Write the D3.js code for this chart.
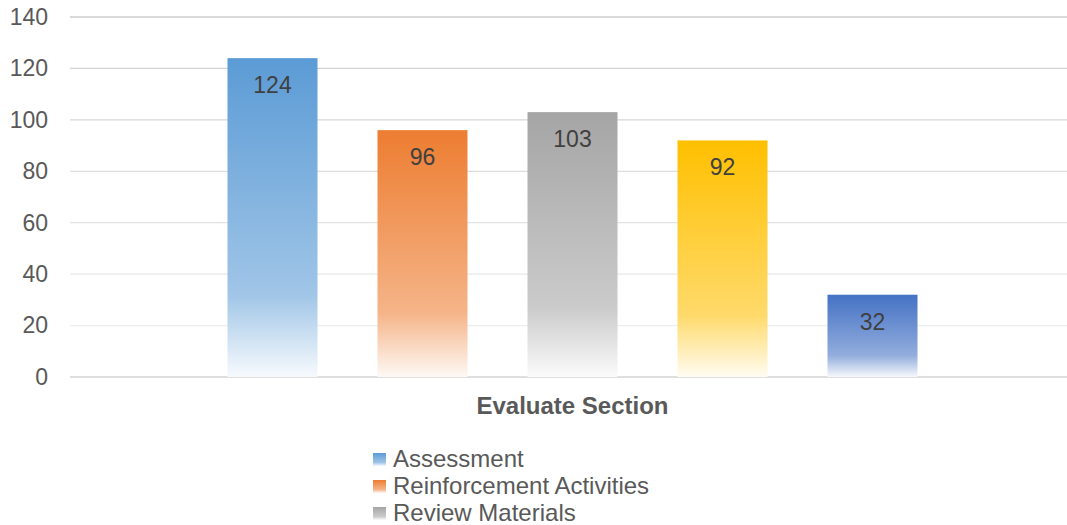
<!DOCTYPE html>
<html>
<head>
<meta charset="utf-8">
<script src="https://cdn.jsdelivr.net/npm/d3@7"></script>
<style>
  html, body { margin: 0; padding: 0; background: #fff; overflow: hidden; }
  svg { display: block; font-family: "Liberation Sans", Arial, sans-serif; }
</style>
</head>
<body>
<svg id="chart" width="1067" height="525"></svg>
<script>
// Evaluate section counts per resource type
const categories = ["Evaluate Section"];
const seriesNames = ["Assessment", "Reinforcement Activities", "Review Materials", "Extension Activities", "Additional Resources"];
const seriesValues = [124, 96, 103, 92, 32];
const seriesColors = ["#5B9BD5", "#ED7D31", "#A5A5A5", "#FFC000", "#4472C4"];
const yTicks = [0, 20, 40, 60, 80, 100, 120, 140];

const W = 1067, H = 525;
const margin = { left: 70, right: -8, top: 17, bottom: 148 };
const svg = d3.select("#chart");

const y = d3.scaleLinear().domain([0, 140]).range([H - margin.bottom, margin.top]);
const x0 = d3.scaleBand().domain(categories)
  .range([margin.left, W - margin.right]).paddingInner(0).paddingOuter(0.17);
const x1 = d3.scaleBand().domain(seriesNames)
  .range([0, x0.bandwidth()]).paddingInner(0.4).paddingOuter(0.2);

// gradient fills: full colour at top, paler lower down, almost white at the base
const defs = svg.append("defs");
seriesColors.forEach((c, i) => {
  const g = defs.append("linearGradient").attr("id", "grad" + i)
    .attr("x1", 0).attr("y1", 0).attr("x2", 0).attr("y2", 1);
  g.append("stop").attr("offset", "0%").attr("stop-color", c);
  g.append("stop").attr("offset", "74%").attr("stop-color", d3.interpolateRgb(c, "#fff")(0.42));
  g.append("stop").attr("offset", "100%").attr("stop-color", d3.interpolateRgb(c, "#fff")(0.95));
});

// gridlines, fading from top to bottom
const gridColor = d3.scaleLinear().domain([140, 20]).range(["#cccccc", "#eeeeee"]);
svg.append("g").selectAll("line").data(yTicks).join("line")
  .attr("x1", margin.left).attr("x2", W)
  .attr("y1", d => y(d)).attr("y2", d => y(d))
  .attr("stroke", d => d === 0 ? "#d4d4d4" : gridColor(d))
  .attr("stroke-width", d => d === 0 ? 1.5 : 1.3);

// y axis labels
const yAxis = d3.axisLeft(y).tickValues(yTicks).tickSize(0).tickPadding(22);
const yg = svg.append("g").attr("transform", `translate(${margin.left},0)`).call(yAxis);
yg.select(".domain").remove();
yg.selectAll("text").attr("font-size", 23).attr("fill", "#595959")
  .attr("font-family", "Liberation Sans, Arial, sans-serif");

// bars
const group = svg.append("g").attr("transform", `translate(${x0(categories[0])},0)`);
group.selectAll("rect").data(seriesNames).join("rect")
  .attr("x", d => x1(d))
  .attr("y", (d, i) => y(seriesValues[i]))
  .attr("width", x1.bandwidth())
  .attr("height", (d, i) => y(0) - y(seriesValues[i]))
  .attr("fill", (d, i) => `url(#grad${i})`);

// value labels inside the top of each bar
group.selectAll("text.val").data(seriesNames).join("text")
  .attr("class", "val")
  .attr("x", d => x1(d) + x1.bandwidth() / 2)
  .attr("y", (d, i) => y(seriesValues[i]) + 35)
  .attr("text-anchor", "middle")
  .attr("font-size", 23).attr("fill", "#404040")
  .text((d, i) => seriesValues[i]);

// category label
svg.append("text")
  .attr("x", x0(categories[0]) + x0.bandwidth() / 2)
  .attr("y", 414)
  .attr("text-anchor", "middle")
  .attr("font-size", 24).attr("font-weight", "bold").attr("fill", "#595959")
  .text(categories[0]);

// legend (entries that fit inside the canvas)
const legendTop = 458, rowH = 27;
const legendRows = seriesNames.map((n, i) => ({ n, i })).filter(d => legendTop + d.i * rowH < H);
const lg = svg.append("g");
const row = lg.selectAll("g").data(legendRows).join("g")
  .attr("transform", d => `translate(373,${legendTop + d.i * rowH})`);
row.append("rect").attr("x", 0).attr("y", -5).attr("width", 13).attr("height", 13)
  .attr("fill", d => `url(#grad${d.i})`);
row.append("text").attr("x", 20).attr("y", 9)
  .attr("font-size", 24).attr("fill", "#595959")
  .text(d => d.n);
</script>
</body>
</html>
